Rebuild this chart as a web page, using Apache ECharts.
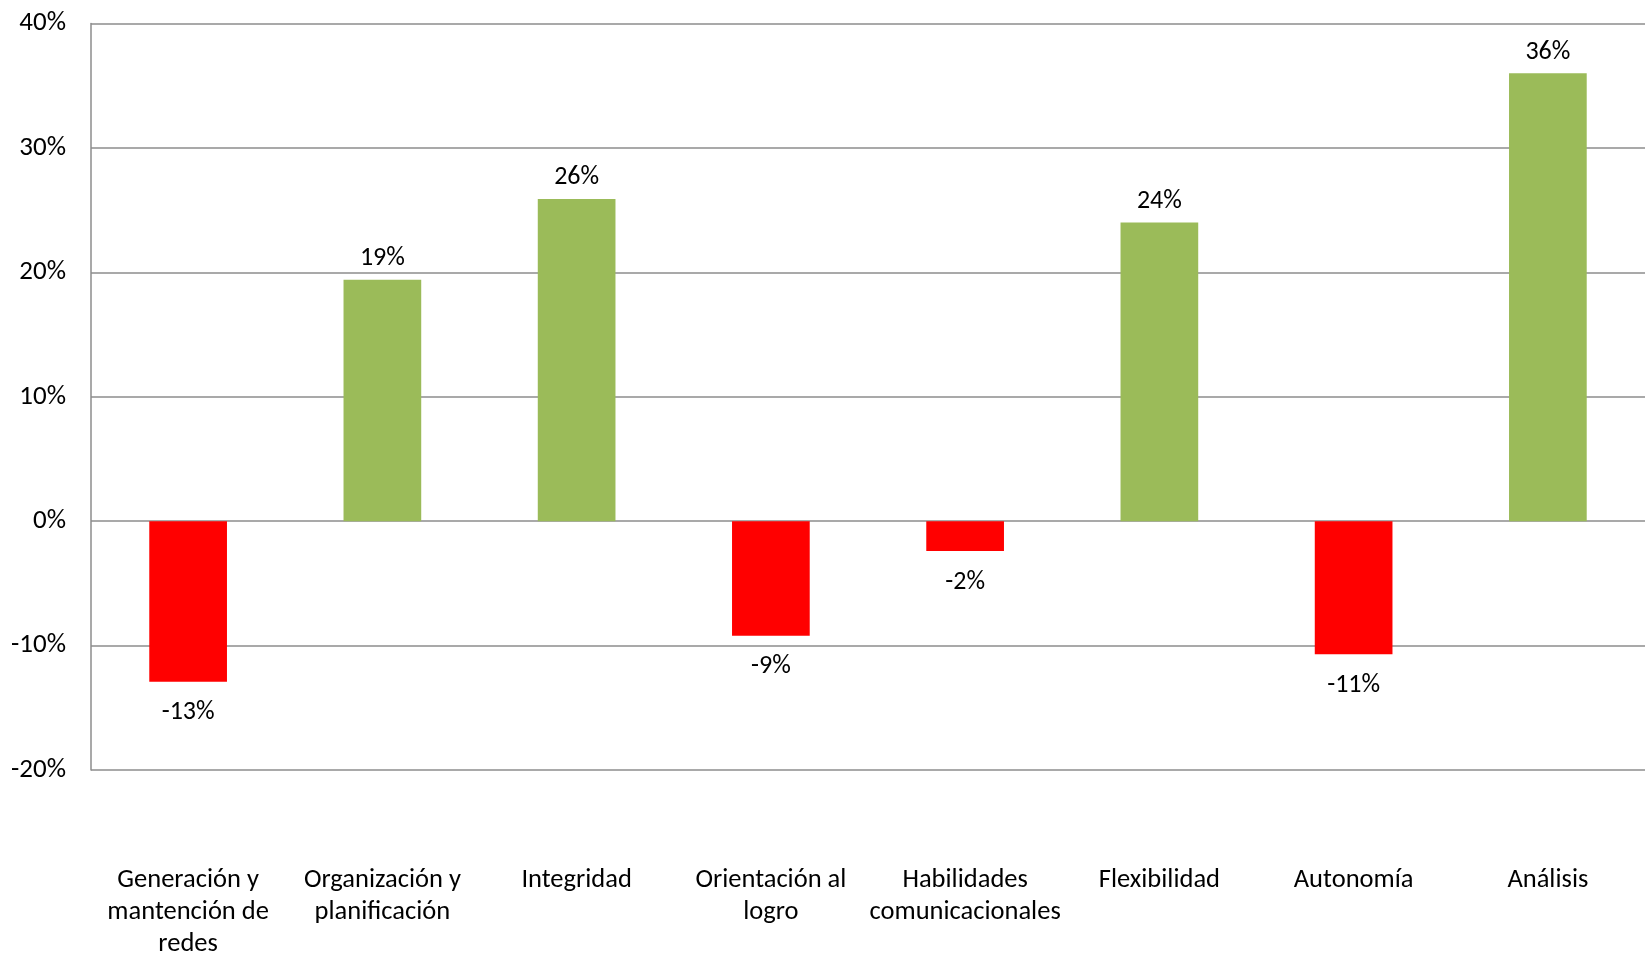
<!DOCTYPE html>
<html>
<head>
<meta charset="utf-8">
<script src="https://cdn.jsdelivr.net/npm/echarts@6/dist/echarts.min.js"></script>
<style>
html,body{margin:0;padding:0;background:#fff;}
#chart{width:1651px;height:966px;}
</style>
</head>
<body>
<div id="chart"></div>
<script>
const categories = [
  "Generación y\nmantención de\nredes",
  "Organización y\nplanificación",
  "Integridad",
  "Orientación al\nlogro",
  "Habilidades\ncomunicacionales",
  "Flexibilidad",
  "Autonomía",
  "Análisis"
];
const values = [-12.9, 19.4, 25.9, -9.2, -2.4, 24.0, -10.7, 36.0];
const yTicks = { min: -20, max: 40, interval: 10 };

const POS_COLOR = '#9BBB59';
const NEG_COLOR = '#FF0000';
const FONT = 'Carlito, Lato, sans-serif';

const seriesData = values.map(v => ({
  value: v,
  itemStyle: { color: v >= 0 ? POS_COLOR : NEG_COLOR },
  label: v >= 0 ? { position: 'top', distance: 8 } : { position: 'bottom', distance: 18 }
}));

const chart = echarts.init(document.getElementById('chart'));
chart.setOption({
  backgroundColor: '#fff',
  animation: false,
  grid: { left: 91, right: 6, top: 23.5, bottom: 196, containLabel: false },
  xAxis: {
    type: 'category',
    data: categories,
    position: 'bottom',
    axisLine: { show: false },
    axisTick: { show: false },
    axisLabel: {
      interval: 0,
      margin: 94,
      color: '#000',
      fontFamily: FONT,
      fontSize: 26.5,
      lineHeight: 32,
      verticalAlign: 'top'
    },
    splitLine: { show: false }
  },
  yAxis: {
    type: 'value',
    min: yTicks.min,
    max: yTicks.max,
    interval: yTicks.interval,
    axisLine: { show: true, lineStyle: { color: '#8c8c8c', width: 1.5 } },
    axisTick: { show: false },
    axisLabel: {
      formatter: '{value}%',
      margin: 25,
      color: '#000',
      fontFamily: FONT,
      fontSize: 27
    },
    splitLine: { show: true, lineStyle: { color: '#8c8c8c', width: 1.5 } }
  },
  series: [{
    type: 'bar',
    data: seriesData,
    barWidth: '40%',
    label: {
      show: true,
      color: '#000',
      fontFamily: FONT,
      fontSize: 26,
      formatter: p => Math.round(p.value) + '%'
    }
  }]
});
</script>
</body>
</html>
